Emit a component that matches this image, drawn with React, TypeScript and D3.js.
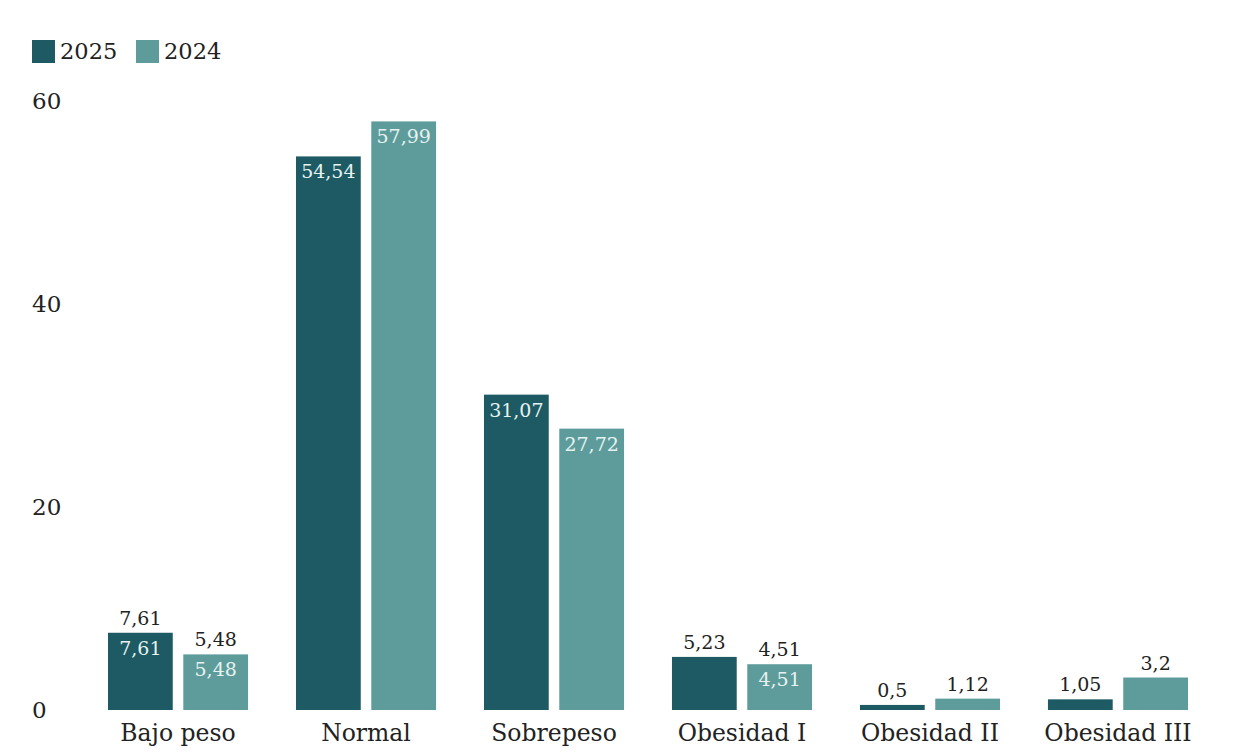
import React from "react";
import * as d3 from "d3";

const categories = ["Bajo peso", "Normal", "Sobrepeso", "Obesidad I", "Obesidad II", "Obesidad III"];
const values2025 = [7.61, 54.54, 31.07, 5.23, 0.5, 1.05];
const values2024 = [5.48, 57.99, 27.72, 4.51, 1.12, 3.2];
const labelMode2025 = ["both", "inside", "inside", "above", "above", "above"];
const labelMode2024 = ["both", "inside", "inside", "both", "above", "above"];
const seriesNames = ["2025", "2024"];
const yTicks = [0, 20, 40, 60];

const W = 1248, H = 756;
const COLORS = ["#1d5a63", "#5e9c9c"];
const FONT = "'DejaVu Serif', 'Liberation Serif', serif";

export default function App() {
  const x = d3.scaleBand<string>().domain(categories).range([108, 1188]).paddingInner(0.255).paddingOuter(0);
  const sub = d3.scaleBand<string>().domain(seriesNames).range([0, x.bandwidth()]).paddingInner(0.14);
  const y = d3.scaleLinear().domain([0, 60]).range([710, 101]);
  const fmt = (v: number) => String(v).replace(".", ",");
  const series = [
    { name: "2025", values: values2025, modes: labelMode2025 },
    { name: "2024", values: values2024, modes: labelMode2024 },
  ];
  return (
    <svg width={W} height={H} style={{ position: "absolute", left: 0, top: 0, background: "#fff" }}>
      <rect width={W} height={H} fill="#fff" />
      {seriesNames.map((s, i) => (
        <g key={s} transform={`translate(${[32, 136][i]},40)`}>
          <rect width={23} height={23} fill={COLORS[i]} />
          <text x={28} y={19} fontFamily={FONT} fontSize={22.5} fill="#222">{s}</text>
        </g>
      ))}
      {yTicks.map((t) => (
        <text key={t} x={32} y={y(t) + 8} fontFamily={FONT} fontSize={23} fill="#222">{t}</text>
      ))}
      {series.map((s, si) =>
        categories.map((c, ci) => {
          const v = s.values[ci];
          const bx = (x(c) ?? 0) + (sub(s.name) ?? 0);
          const bw = sub.bandwidth();
          const top = y(v);
          const mode = s.modes[ci];
          return (
            <g key={s.name + c}>
              <rect x={bx} y={top} width={bw} height={y(0) - top} fill={COLORS[si]} />
              {(mode === "inside" || mode === "both") && (
                <text x={bx + bw / 2} y={top + 22} textAnchor="middle" fontFamily={FONT} fontSize={19} fill="#e6f3f1">{fmt(v)}</text>
              )}
              {(mode === "above" || mode === "both") && (
                <text x={bx + bw / 2} y={top - 8} textAnchor="middle" fontFamily={FONT} fontSize={19} fill="#222">{fmt(v)}</text>
              )}
            </g>
          );
        })
      )}
      {categories.map((c) => (
        <text key={c} x={(x(c) ?? 0) + x.bandwidth() / 2} y={741} textAnchor="middle" fontFamily={FONT} fontSize={23.5} fill="#222">{c}</text>
      ))}
    </svg>
  );
}
